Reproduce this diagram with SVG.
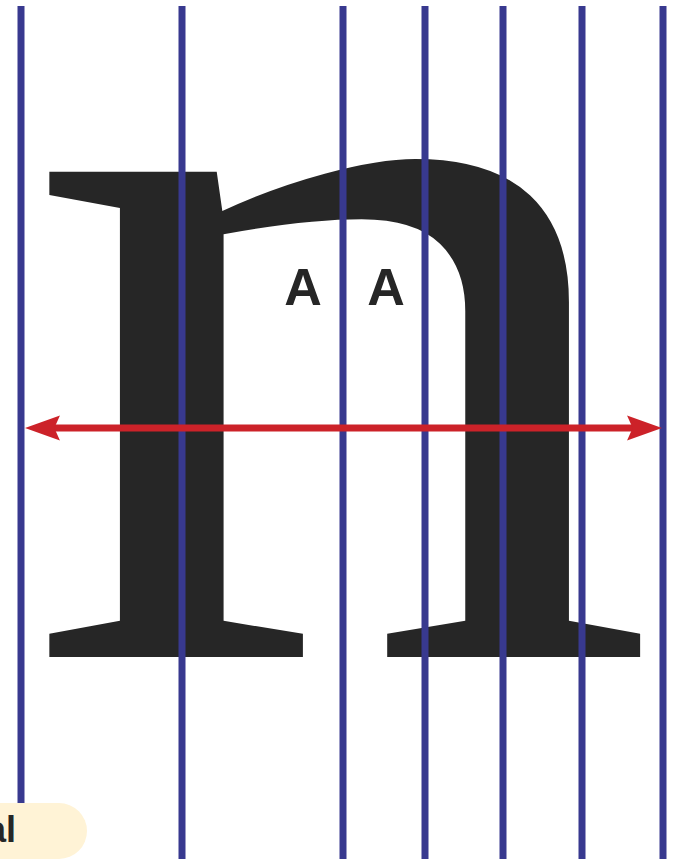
<svg xmlns="http://www.w3.org/2000/svg" width="675" height="859" viewBox="0 0 675 859">
<style>
.guide{stroke:#38398f;stroke-width:7;fill:none}
.glyph{font-family:"Liberation Serif",serif;font-weight:normal;fill:#262626}
.lbl{font-family:"Liberation Sans",Arial,sans-serif;font-weight:bold;fill:#262626}
</style>
<defs>
<marker id="ah" markerWidth="5" markerHeight="3.6" refX="5.7" refY="3.6" orient="auto-start-reverse" markerUnits="strokeWidth" viewBox="0 0 10 7.2">
<path d="M0,0 L10,3.6 L0,7.2 L1.6,3.6 Z" fill="#cc2229"/>
</marker>
</defs>
<rect width="675" height="859" fill="#ffffff"/>
<g id="glyph-n">
<text class="glyph" font-size="1057" transform="translate(20,657) scale(1.21,1)" x="0" y="0">n</text>
</g>
<g id="counter-box">
<rect x="244" y="233" width="171" height="110" fill="#ffffff"/>
<text class="lbl" x="303" y="305" font-size="52" text-anchor="middle">A</text>
<text class="lbl" x="386" y="305" font-size="52" text-anchor="middle">A</text>
</g>
<g id="connectors">
<line class="guide" x1="21" y1="6" x2="21" y2="859"/>
<line class="guide" x1="182" y1="6" x2="182" y2="859"/>
<line class="guide" x1="343" y1="6" x2="343" y2="859"/>
<line class="guide" x1="425" y1="6" x2="425" y2="859"/>
<line class="guide" x1="503" y1="6" x2="503" y2="859"/>
<line class="guide" x1="582" y1="6" x2="582" y2="859"/>
<line class="guide" x1="663" y1="6" x2="663" y2="859"/>
<line x1="40" y1="428" x2="647" y2="428" stroke="#cc2229" stroke-width="7" marker-start="url(#ah)" marker-end="url(#ah)"/>
</g>
<g id="pill">
<rect x="-60" y="803" width="147" height="56" rx="28" fill="#fff3d6"/>
<text class="lbl" x="16" y="842" font-size="36" text-anchor="end">al</text>
</g>
</svg>
